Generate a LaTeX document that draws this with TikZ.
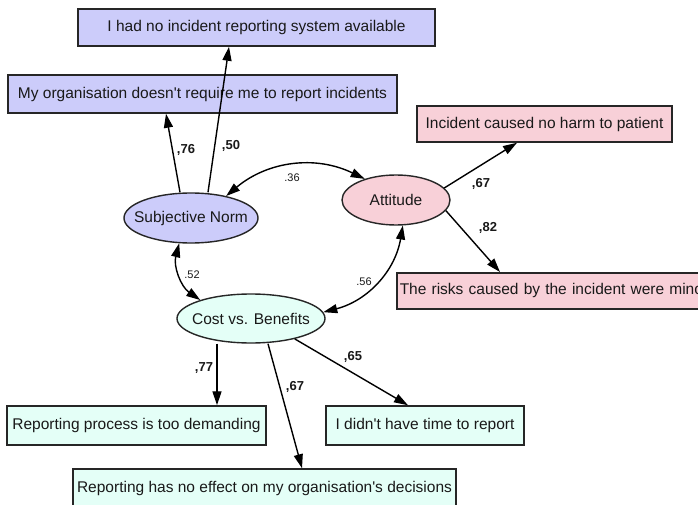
\documentclass[tikz,border=0pt]{standalone}
\usepackage{fontspec}
\setmainfont{Liberation Sans}[Ligatures=TeXOff]
\usetikzlibrary{arrows.meta,shapes.geometric}
\definecolor{lav}{RGB}{204,204,250}
\definecolor{pnk}{RGB}{248,208,216}
\definecolor{mnt}{RGB}{228,255,247}
\tikzset{
  box/.style={rectangle, draw=black!85, line width=1.5pt, inner sep=0pt,
    font=\fontsize{15.5}{18}\selectfont, text=black!90},
  lat/.style={ellipse, draw=black!85, line width=1.4pt, inner sep=0pt},
  lattext/.style={font=\fontsize{15.5}{18}\selectfont, text=black!90, inner sep=0pt},
  arr/.style={-{Triangle[length=14pt,width=9pt]}, line width=1.4pt},
  cov/.style={{Triangle[length=14pt,width=9pt]}-{Triangle[length=14pt,width=9pt]}, line width=1.4pt},
  wt/.style={font=\fontsize{13}{15}\selectfont\bfseries, text=black!90},
  cv/.style={font=\fontsize{11}{13}\selectfont, text=black!90},
}
\begin{document}
\begin{tikzpicture}[x=1pt,y=1pt]
\useasboundingbox (0,0) rectangle (698,-505);
\clip (0,0) rectangle (698,-505);
\fill[white] (0,0) rectangle (698,-505);

% boxes
\node[box, fill=lav, minimum width=357pt, minimum height=37pt] (had) at (256.5,-27.5) {I had no incident reporting system available};
\node[box, fill=lav, minimum width=389pt, minimum height=38pt] (org) at (202.5,-94) {My organisation doesn't require me to report incidents};
\node[box, fill=pnk, minimum width=255pt, minimum height=36pt] (inc) at (544.5,-124) {Incident caused no harm to patient};
\node[box, fill=pnk, anchor=north west, text width=313pt, minimum height=36pt, inner xsep=3pt, align=left] (risk) at (396,-272) {The risks caused by the incident were minor};
\node[box, fill=mnt, minimum width=259pt, minimum height=39pt] (dem) at (136.5,-425.5) {Reporting process is too demanding};
\node[box, fill=mnt, minimum width=198pt, minimum height=39pt] (time) at (425,-425.5) {I didn't have time to report};
\node[box, fill=mnt, minimum width=383pt, minimum height=38pt] (noeff) at (264.5,-488) {Reporting has no effect on my organisation's decisions};

% latent variables
\node[lat, fill=lav, minimum width=134pt, minimum height=50pt] (sn) at (191,-218) {};
\node[lattext] (snt) at (sn) {Subjective Norm};
\node[lat, fill=pnk, minimum width=108pt, minimum height=50pt] (att) at (396,-200) {};
\node[lattext] (attt) at (att) {Attitude};
\node[lat, fill=mnt, minimum width=148pt, minimum height=49pt] (cb) at (251,-318.5) {};
\node[lattext] (cbt) at (cb) {Cost vs. Benefits};

% loadings
\draw[arr] ([xshift=-11pt]sn.north) -- ([xshift=-36.5pt]org.south);
\draw[arr] ([xshift=17pt]sn.north) -- ([xshift=-27.5pt]had.south);
\draw[arr] (att.14) -- ([xshift=-27.5pt]inc.south);
\draw[arr] (att.-12) -- ([xshift=104pt]risk.north west);
\draw[arr] ([xshift=-34pt]cb.south) -- ([xshift=80.5pt]dem.north);
\draw[arr] ([xshift=17pt]cb.south) -- ([xshift=37.5pt]noeff.north);
\draw[arr] (cb.-25) -- ([xshift=-17pt]time.north);

% covariances
\draw[cov] (sn.32) to[bend left=33] (att.146);
\draw[cov] (sn.245) to[bend right=35] (cb.160);
\draw[cov] (att.-75) to[bend left=33] (cb.5);

% labels
\node[wt] (l76) at (186,-150) {,76};
\node[wt] (l50) at (231,-146) {,50};
\node[wt] (l67a) at (481,-184) {,67};
\node[wt] (l82) at (488,-228) {,82};
\node[wt] (l77) at (204,-368) {,77};
\node[wt] (l67b) at (295,-387) {,67};
\node[wt] (l65) at (353,-357) {,65};
\node[cv] (c36) at (292,-178) {.36};
\node[cv] (c52) at (192,-275) {.52};
\node[cv] (c56) at (364,-282) {.56};
\end{tikzpicture}
\end{document}
